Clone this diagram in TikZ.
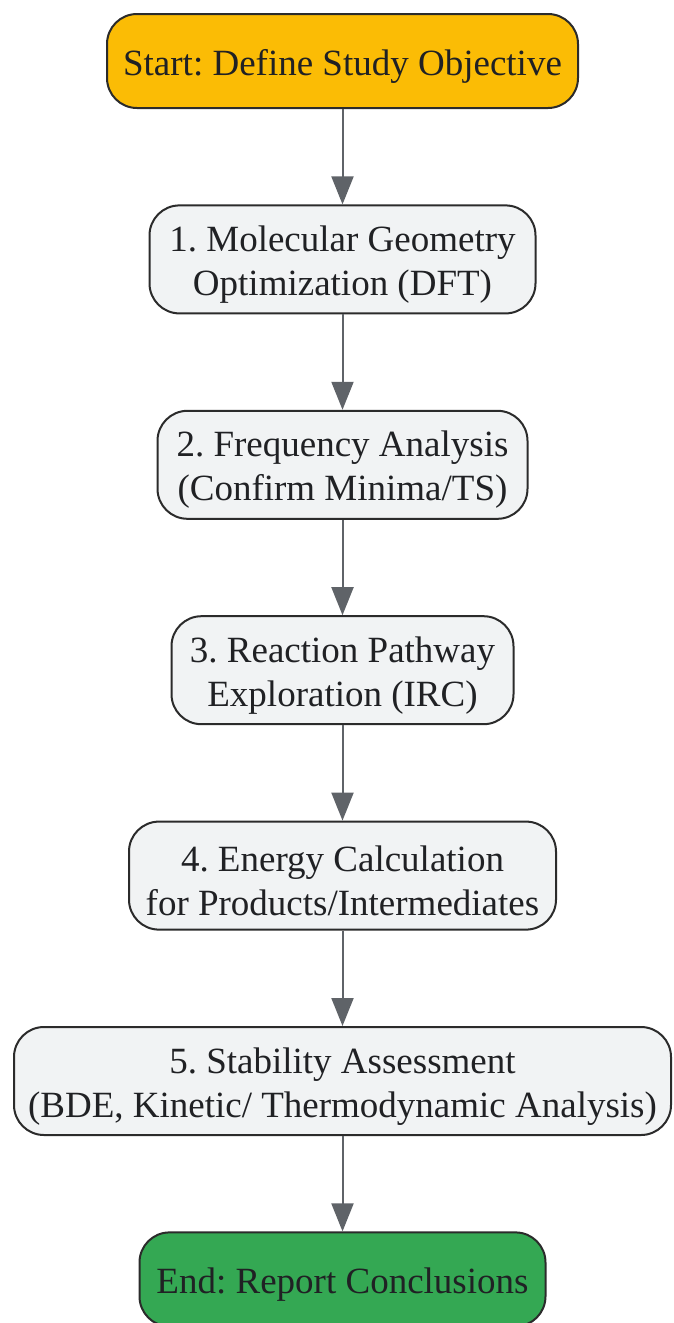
\documentclass[tikz,border=0pt]{standalone}
\usepackage{fontspec}
\setmainfont{Liberation Serif}
\usetikzlibrary{positioning,arrows.meta}
\frenchspacing

\definecolor{startyellow}{HTML}{FBBC05}
\definecolor{endgreen}{HTML}{34A853}
\definecolor{stepgray}{HTML}{F1F3F4}
\definecolor{boxline}{HTML}{2B2B2B}
\definecolor{arrowgray}{HTML}{5F6368}
\definecolor{textdark}{HTML}{202124}

% taller first line, pushes the text a little down in its box
\newcommand{\topgap}{\rule{0pt}{36pt}}

\tikzset{
  box/.style={draw=boxline, line width=2pt, rounded corners=30pt, fill=stepgray,
    align=center, text=textdark, inner sep=0pt, minimum height=108pt,
    font=\fontsize{37}{44}\selectfont},
  terminal/.style={box, minimum height=94pt},
  flow/.style={draw=arrowgray, line width=2pt, -{Triangle[length=28pt,width=22pt]}}
}

\begin{document}
\begin{tikzpicture}[x=1pt, y=1pt, node distance=95.4pt]
  \useasboundingbox (0,0) rectangle (673,-1323);

  \node[terminal, fill=startyellow, minimum width=471pt] (start) at (342.5,-61) {\topgap Start: Define Study Objective};
  \node[box, minimum width=386pt, below=of start] (geom) {\topgap 1. Molecular Geometry\\Optimization (DFT)};
  \node[box, minimum width=370pt, below=of geom] (freq) {\topgap 2. Frequency Analysis\\(Confirm Minima/TS)};
  \node[box, minimum width=342pt, below=of freq] (path) {\topgap 3. Reaction Pathway\\Exploration (IRC)};
  \node[box, minimum width=427pt, below=of path] (energy) {\topgap 4. Energy Calculation\\for Products/Intermediates};
  \node[box, minimum width=657pt, below=of energy] (stab) {\topgap 5. Stability Assessment\\(BDE, Kinetic/ Thermodynamic Analysis)};
  \node[terminal, fill=endgreen, minimum width=406pt, below=of stab] (end) {\topgap End: Report Conclusions};

  \draw[flow] (start) -- (geom);
  \draw[flow] (geom) -- (freq);
  \draw[flow] (freq) -- (path);
  \draw[flow] (path) -- (energy);
  \draw[flow] (energy) -- (stab);
  \draw[flow] (stab) -- (end);
\end{tikzpicture}
\end{document}
